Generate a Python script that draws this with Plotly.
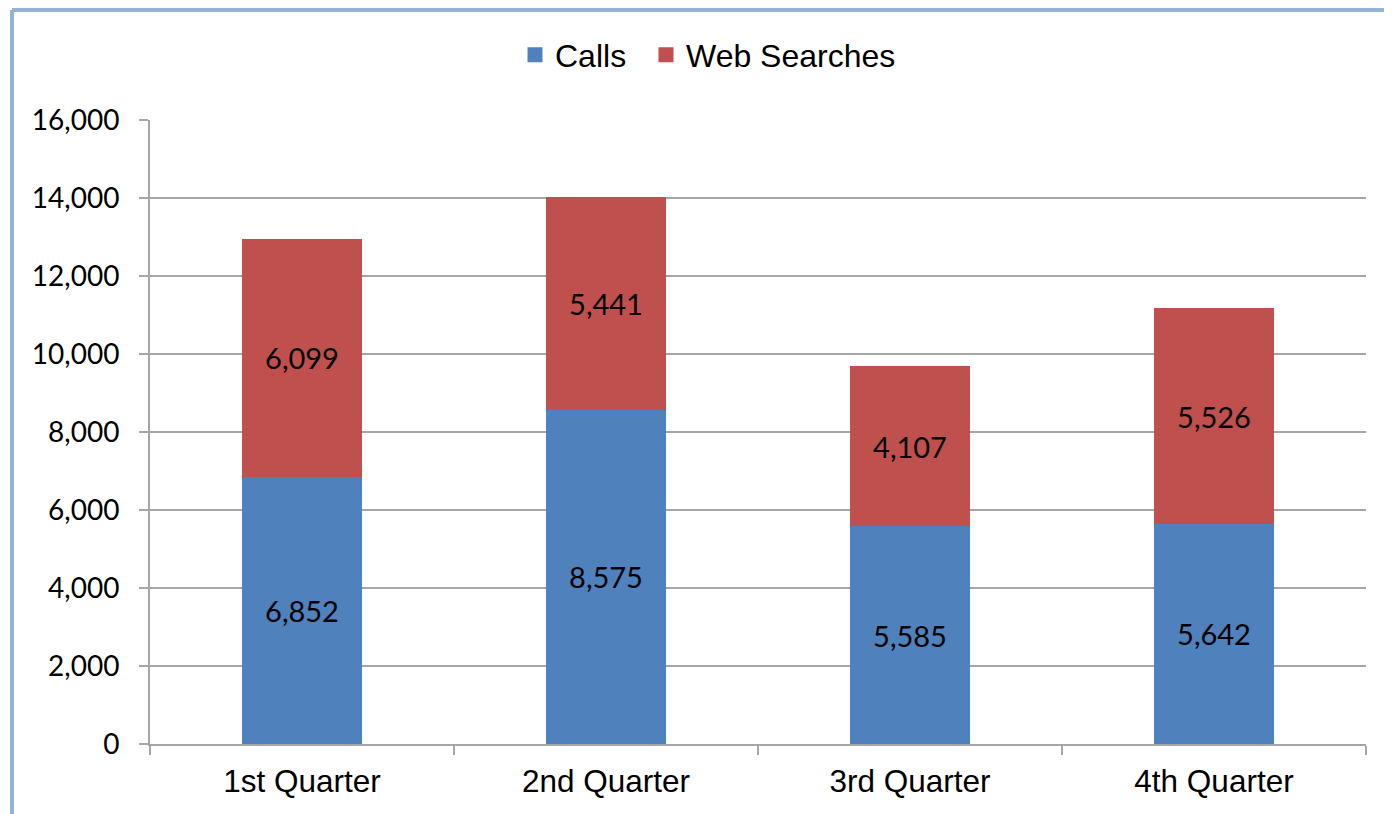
import plotly.graph_objects as go

categories = ["1st Quarter", "2nd Quarter", "3rd Quarter", "4th Quarter"]
calls = [6852, 8575, 5585, 5642]
web_searches = [6099, 5441, 4107, 5526]
y_ticks = [0, 2000, 4000, 6000, 8000, 10000, 12000, 14000, 16000]
y_tick_labels = ["0", "2,000", "4,000", "6,000", "8,000", "10,000", "12,000", "14,000", "16,000"]

BLUE = "#4F81BD"
RED = "#C0504D"

label_font = dict(family="Lato, Carlito, sans-serif", size=29, color="#000000")

fig = go.Figure()
fig.add_trace(go.Bar(
    name="Calls", x=categories, y=calls, marker=dict(color=BLUE, line=dict(width=0)),
    text=[f"{v:,}" for v in calls], textposition="inside", insidetextanchor="middle",
    textangle=0, insidetextfont=label_font, constraintext="none", showlegend=False,
))
fig.add_trace(go.Bar(
    name="Web Searches", x=categories, y=web_searches, marker=dict(color=RED, line=dict(width=0)),
    text=[f"{v:,}" for v in web_searches], textposition="inside", insidetextanchor="middle",
    textangle=0, insidetextfont=label_font, constraintext="none", showlegend=False,
))
# legend proxies (square swatches like the original), one legend box each
for nm, col, lg in [("Calls", BLUE, "legend"), ("Web Searches", RED, "legend2")]:
    fig.add_trace(go.Scatter(
        name=nm, x=[None], y=[None], mode="markers",
        marker=dict(symbol="square", size=15, color=col), showlegend=True, legend=lg,
    ))

xtick_font = dict(family="Liberation Sans, Arial, sans-serif", size=31.5, color="#000000")
ytick_font = dict(family="Lato, Carlito, sans-serif", size=28, color="#000000")
legend_font = dict(family="Liberation Sans, Arial, sans-serif", size=32, color="#000000")

# figure is drawn at an 8px page offset
L, R, T, B = 142, 1358, 112, 736
W, H = 1384, 806
legend_y = (B - 47) / (B - T)

fig.update_layout(
    barmode="stack",
    bargap=0.605,
    width=W, height=H,
    margin=dict(l=L, r=W - R, t=T, b=H - B, autoexpand=False),
    paper_bgcolor="white", plot_bgcolor="white",
    showlegend=True,
    legend=dict(orientation="h", x=(507 - L) / (R - L), xanchor="left",
                y=legend_y, yanchor="middle", bgcolor="rgba(0,0,0,0)",
                font=legend_font, itemwidth=30),
    legend2=dict(orientation="h", x=(638 - L) / (R - L), xanchor="left",
                 y=legend_y, yanchor="middle", bgcolor="rgba(0,0,0,0)",
                 font=legend_font, itemwidth=30),
    xaxis=dict(
        type="category", showline=True, linecolor="#A6A6A6", linewidth=2,
        ticks="outside", tickson="boundaries", ticklen=9, tickcolor="#A6A6A6", tickwidth=2,
        tickfont=xtick_font, showgrid=False, ticklabelstandoff=8,
    ),
    yaxis=dict(
        range=[0, 16000], tickvals=y_ticks, ticktext=y_tick_labels,
        showline=True, linecolor="#A6A6A6", linewidth=2,
        ticks="outside", ticklen=9, tickcolor="#A6A6A6", tickwidth=2,
        showgrid=True, gridcolor="#A6A6A6", gridwidth=1.5,
        tickfont=ytick_font, zeroline=False, ticklabelstandoff=14,
    ),
    shapes=[
        dict(type="line", xref="paper", yref="paper", x0=(4 - L) / (R - L), x1=1.2,
             y0=(B - 2) / (B - T), y1=(B - 2) / (B - T), line=dict(color="#95B3D7", width=4)),
        dict(type="line", xref="paper", yref="paper", x0=(4 - L) / (R - L), x1=(4 - L) / (R - L),
             y0=(B - 2) / (B - T), y1=-0.3, line=dict(color="#95B3D7", width=4)),
    ],
)

fig.write_html("out.html")
